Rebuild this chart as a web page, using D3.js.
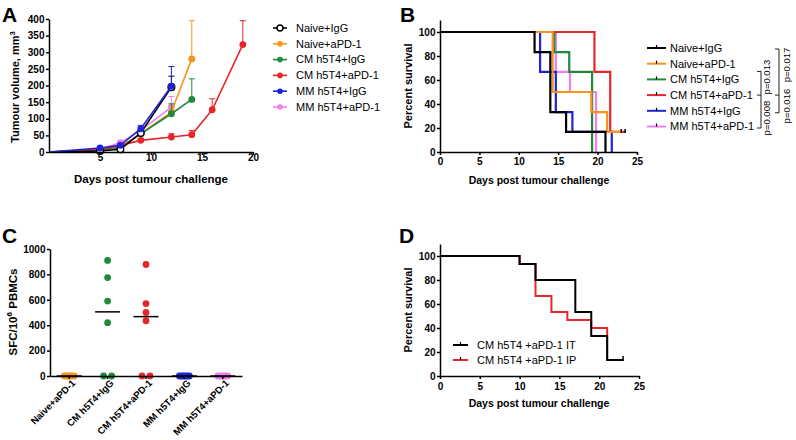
<!DOCTYPE html>
<html><head><meta charset="utf-8">
<script src="https://cdn.jsdelivr.net/npm/d3@7"></script>
<style>body{margin:0;background:#fff}svg{display:block}text{font-family:"Liberation Sans",Arial,Helvetica,sans-serif}</style>
</head><body><svg id="c" width="796" height="440" font-family="Liberation Sans, Arial, sans-serif"></svg>
<script>
// ---------- colours ----------
const cBlack = "#000000", cOrange = "#f7941d", cGreen = "#1f8a3b", cRed = "#e8262a", cBlue = "#1d24d8", cViolet = "#f07ef0";

// ---------- Panel A : tumour volume ----------
const groupNames = ["Naive+IgG","Naive+aPD-1","CM h5T4+IgG","CM h5T4+aPD-1","MM h5T4+IgG","MM h5T4+aPD-1"];
const groupColors = [cBlack, cOrange, cGreen, cRed, cBlue, cViolet];
const daysNaiveIgG = [0,5,7,9,12],           volNaiveIgG = [0,3,8,57,195],            semNaiveIgG = [0,1,2,5,33];
const daysNaiveAPD1 = [0,5,7,9,12,14],       volNaiveAPD1 = [0,5,15,55,120,280],      semNaiveAPD1 = [0,2,3,5,20,115];
const daysCmIgG = [0,5,7,9,12,14],           volCmIgG = [0,5,14,55,115,158],          semCmIgG = [0,2,3,5,30,62];
const daysCmAPD1 = [0,5,7,9,12,14,16,19],    volCmAPD1 = [0,8,20,35,45,52,127,323],   semCmAPD1 = [0,2,3,5,10,13,33,72];
const daysMmIgG = [0,5,7,9,12],              volMmIgG = [0,12,20,70,198],             semMmIgG = [0,3,4,10,59];
const daysMmAPD1 = [0,5,7,9,12],             volMmAPD1 = [0,8,28,65,135],             semMmAPD1 = [0,2,5,8,32];
const aXTicks = [5,10,15,20];
const aYTicks = [0,50,100,150,200,250,300,350,400];

// ---------- Panel B : survival ----------
const survNaiveIgG  = [[0,100],[12,83.3],[14,33.3],[16,16.7],[21,0]];
const survNaiveAPD1 = [[0,100],[14.3,50],[19.2,33.3],[21.2,16.7],[23,16.7]];
const survCmIgG     = [[0,100],[14.5,83.3],[16.4,66.7],[19.3,0]];
const survCmAPD1    = [[0,100],[19.6,66.7],[21.6,16.7],[23.5,16.7]];
const survMmIgG     = [[0,100],[12.7,66.7],[14.7,33.3],[16.8,16.7],[21.8,0]];
const survMmAPD1    = [[0,100],[14.7,66.7],[16.5,50],[19.8,0]];
const censoredB = [false,true,false,true,false,false];
const bXTicks = [0,5,10,15,20,25];
const survTicks = [0,20,40,60,80,100];
const pValues = ["p=0.013","p=0.008","p=0.017","p=0.016"];

// ---------- Panel C : ELISpot ----------
const cCategories = ["Naive+aPD-1","CM h5T4+IgG","CM h5T4+aPD-1","MM h5T4+IgG","MM h5T4+aPD-1"];
const cColors = [cOrange, cGreen, cRed, cBlue, cViolet];
const sfcNaiveAPD1 = [0,0,0,0,0,0];
const sfcCmIgG     = [910,775,590,420,0,0];
const sfcCmAPD1    = [878,570,500,435,0,0];
const sfcMmIgG     = [0,0,0,0,0,0];
const sfcMmAPD1    = [0,0,0,0,0,0];
const cYTicks = [0,200,400,600,800,1000];

// ---------- Panel D : survival IT vs IP ----------
const dNames = ["CM h5T4 +aPD-1 IT","CM h5T4 +aPD-1 IP"];
const survIT = [[0,100],[10,93.3],[12,80],[17,53.3],[19,33.3],[21,13.3],[23,13.3]];
const survIP = [[0,100],[10,93.3],[12,66.7],[14,53.3],[16,46.7],[19,40],[21,13.3],[23,13.3]];

// =========================================================
const svg = d3.select("#c");
const FONT = '"Liberation Sans", Arial, sans-serif';

function styleAxis(g, fs){
  g.attr("font-family",FONT);
  g.selectAll("path,line").attr("stroke","#000").attr("stroke-width",1.5);
  g.selectAll("text").attr("font-weight","bold").attr("font-size",fs||10).attr("fill","#000")
    .style("font-family",FONT);
}
function panelLabel(t,x,y){
  svg.append("text").attr("x",x).attr("y",y).text(t).attr("font-size",21).attr("font-weight","bold");
}
function xTitle(t,cx,y,fs){
  svg.append("text").attr("x",cx).attr("y",y).attr("text-anchor","middle").attr("font-size",fs)
    .attr("font-weight","bold").text(t);
}
function yTitle(x,cy,fs,parts){
  const t = svg.append("text").attr("transform",`translate(${x},${cy}) rotate(-90)`)
    .attr("text-anchor","middle").attr("font-size",fs).attr("font-weight","bold");
  parts.forEach(p=>{
    const ts = t.append("tspan").text(p.t);
    if(p.sup){ ts.attr("font-size",fs*0.7).attr("dy",-fs*0.4); }
    else if(p.after){ ts.attr("dy",fs*0.4); }
  });
}

// ---------------- Panel A ----------------
{
  const x = d3.scaleLinear().domain([0,20]).range([49,253]);
  const y = d3.scaleLinear().domain([0,400]).range([152,19]);
  const series = [
    {d:daysNaiveIgG,v:volNaiveIgG,e:semNaiveIgG,i:0},
    {d:daysNaiveAPD1,v:volNaiveAPD1,e:semNaiveAPD1,i:1},
    {d:daysCmIgG,v:volCmIgG,e:semCmIgG,i:2},
    {d:daysCmAPD1,v:volCmAPD1,e:semCmAPD1,i:3},
    {d:daysMmIgG,v:volMmIgG,e:semMmIgG,i:4},
    {d:daysMmAPD1,v:volMmAPD1,e:semMmAPD1,i:5}
  ].map(s=>({i:s.i,color:groupColors[s.i],pts:s.d.map((dd,k)=>({day:dd,v:s.v[k],e:s.e[k]}))}));
  const order = [5,1,2,3,0,4];
  const line = d3.line().x(p=>x(p.day)).y(p=>y(p.v));
  const gA = svg.append("g");
  order.forEach(idx=>{
    const s = series[idx];
    const g = gA.append("g");
    s.pts.filter(p=>p.e>0).forEach(p=>{
      g.append("line").attr("x1",x(p.day)).attr("x2",x(p.day)).attr("y1",y(p.v)).attr("y2",y(p.v+p.e))
        .attr("stroke",s.color).attr("stroke-width",1);
      g.append("line").attr("x1",x(p.day)-3).attr("x2",x(p.day)+3).attr("y1",y(p.v+p.e)).attr("y2",y(p.v+p.e))
        .attr("stroke",s.color).attr("stroke-width",1);
    });
    g.append("path").attr("d",line(s.pts)).attr("fill","none").attr("stroke",s.color).attr("stroke-width",1.6);
    g.selectAll("circle").data(s.pts.filter(p=>p.day>0)).join("circle")
      .attr("cx",p=>x(p.day)).attr("cy",p=>y(p.v)).attr("r", s.i===0?3.3:3.4)
      .attr("fill", s.i===0?"#fff":s.color).attr("stroke",s.color).attr("stroke-width",s.i===0?1.5:0);
  });
  const ax = svg.append("g").attr("transform","translate(0,152)")
    .call(d3.axisBottom(x).tickValues(aXTicks).tickSize(3).tickSizeOuter(0).tickPadding(-1));
  styleAxis(ax);
  const ay = svg.append("g").attr("transform","translate(49,0)")
    .call(d3.axisLeft(y).tickValues(aYTicks).tickSize(3).tickSizeOuter(0).tickPadding(1.5));
  styleAxis(ay);
  xTitle("Days post tumour challenge",151,183,11.5);
  yTitle(19,87,11,[{t:"Tumour volume, mm"},{t:"3",sup:true}]);
  panelLabel("A",2,22);
  const lg = svg.append("g");
  groupNames.forEach((n,i)=>{
    const yy = 28 + i*15.8;
    lg.append("line").attr("x1",273).attr("x2",287).attr("y1",yy).attr("y2",yy)
      .attr("stroke",groupColors[i]).attr("stroke-width",1.6);
    lg.append("circle").attr("cx",280).attr("cy",yy).attr("r",i===0?3:2.8)
      .attr("fill",i===0?"#fff":groupColors[i]).attr("stroke",groupColors[i]).attr("stroke-width",i===0?1.4:0);
    lg.append("text").attr("x",296).attr("y",yy).attr("dy","0.35em").attr("font-size",11).text(n);
  });
}

// ---------------- Panel B ----------------
{
  const x = d3.scaleLinear().domain([0,25]).range([440,637]);
  const y = d3.scaleLinear().domain([0,110]).range([152,20]);
  const surv = [survNaiveIgG,survNaiveAPD1,survCmIgG,survCmAPD1,survMmIgG,survMmAPD1];
  const line = d3.line().x(p=>x(p[0])).y(p=>y(p[1])).curve(d3.curveStepAfter);
  const order = [5,2,4,3,1,0];
  order.forEach(i=>{
    svg.append("path").attr("d",line(surv[i])).attr("fill","none").attr("stroke",groupColors[i])
      .attr("stroke-width",2.2);
  });
  surv.forEach((s,i)=>{
    if(!censoredB[i]) return;
    const last = s[s.length-1];
    svg.append("line").attr("x1",x(last[0])).attr("x2",x(last[0])).attr("y1",y(last[1])+1).attr("y2",y(last[1])-3)
      .attr("stroke","#000").attr("stroke-width",1.5);
  });
  const ax = svg.append("g").attr("transform","translate(0,152)")
    .call(d3.axisBottom(x).tickValues(bXTicks).tickSize(3).tickSizeOuter(0).tickPadding(2.5));
  styleAxis(ax);
  const ay = svg.append("g").attr("transform","translate(440,0)")
    .call(d3.axisLeft(y).tickValues(survTicks).tickSize(3).tickSizeOuter(0).tickPadding(1.5));
  styleAxis(ay);
  xTitle("Days post tumour challenge",539,184,10.5);
  yTitle(412,86,11,[{t:"Percent survival"}]);
  panelLabel("B",400,22);
  const rows = groupNames.map((n,i)=>48 + i*15.7);
  groupNames.forEach((n,i)=>{
    const yy = rows[i];
    svg.append("line").attr("x1",647).attr("x2",666).attr("y1",yy).attr("y2",yy)
      .attr("stroke",groupColors[i]).attr("stroke-width",2);
    svg.append("line").attr("x1",656.5).attr("x2",656.5).attr("y1",yy).attr("y2",yy-3)
      .attr("stroke","#000").attr("stroke-width",1.2);
    svg.append("text").attr("x",670).attr("y",yy).attr("dy","0.35em").attr("font-size",11).text(n);
  });
  const br = svg.append("g").attr("stroke","#222").attr("stroke-width",1).attr("fill","none");
  const b1Top = rows[2]-8, b1Mid = rows[3], b1Bot = rows[5]+1.5;
  br.append("path").attr("d",`M757,${b1Top}H761V${b1Bot}H757M757,${b1Mid}H761`);
  const b3Top = rows[0]+1, b3Mid = rows[3], b3Bot = rows[4]+2;
  br.append("path").attr("d",`M775,${b3Top}H779V${b3Bot}H775M775,${b3Mid}H779`);
  const pt = [
    {t:pValues[0],x:770,y:b1Mid-18},
    {t:pValues[1],x:770,y:b1Mid+23},
    {t:pValues[2],x:790,y:b3Top+16},
    {t:pValues[3],x:790,y:b3Mid+11}
  ];
  pt.forEach(p=>{
    svg.append("text").attr("transform",`translate(${p.x},${p.y}) rotate(-90)`)
      .attr("text-anchor","middle").attr("font-size",9.5).text(p.t);
  });
}

// ---------------- Panel C ----------------
{
  const x = d3.scaleBand().domain(cCategories).range([50,242]);
  const y = d3.scaleLinear().domain([0,1000]).range([376,249]);
  const groups = [sfcNaiveAPD1,sfcCmIgG,sfcCmAPD1,sfcMmIgG,sfcMmAPD1];
  groups.forEach((vals,gi)=>{
    const cx = x(cCategories[gi]) + x.bandwidth()/2;
    const counts = d3.rollup(vals, v=>v.length, v=>v);
    const seen = new Map();
    const pts = vals.map(v=>{
      const n = counts.get(v), k = seen.get(v)||0; seen.set(v,k+1);
      const step = n>1 ? Math.min(8, 10/(n-1)) : 0;
      return {v, dx:(k-(n-1)/2)*step};
    });
    svg.append("g").selectAll("circle").data(pts).join("circle")
      .attr("cx",p=>cx+p.dx).attr("cy",p=>y(p.v)).attr("r",3.4).attr("fill",cColors[gi]);
    const med = d3.median(vals);
    svg.append("line").attr("x1",cx-12.5).attr("x2",cx+12.5).attr("y1",y(med)).attr("y2",y(med))
      .attr("stroke","#000").attr("stroke-width",1.5);
  });
  const ax = svg.append("g").attr("transform","translate(0,376)")
    .call(d3.axisBottom(x).tickSize(3).tickSizeOuter(0).tickPadding(2));
  styleAxis(ax,9.6);
  ax.selectAll("text").attr("text-anchor","end").attr("dy",null).attr("y",null)
    .attr("transform","translate(5,6) rotate(-45)").attr("dominant-baseline","middle");
  const ay = svg.append("g").attr("transform","translate(50,0)")
    .call(d3.axisLeft(y).tickValues(cYTicks).tickFormat(d3.format("d")).tickSize(3).tickSizeOuter(0).tickPadding(1.5));
  styleAxis(ay);
  yTitle(17,312,11.5,[{t:"SFC/10"},{t:"6",sup:true},{t:" PBMCs",after:true}]);
  panelLabel("C",2,243);
}

// ---------------- Panel D ----------------
{
  const x = d3.scaleLinear().domain([0,25]).range([440,639]);
  const y = d3.scaleLinear().domain([0,110]).range([376,244]);
  const line = d3.line().x(p=>x(p[0])).y(p=>y(p[1])).curve(d3.curveStepAfter);
  const dSeries = [survIT, survIP];
  const dColors = [cBlack, cRed];
  [1,0].forEach(i=>{
    svg.append("path").attr("d",line(dSeries[i])).attr("fill","none").attr("stroke",dColors[i]).attr("stroke-width",2);
  });
  const last = survIT[survIT.length-1];
  svg.append("line").attr("x1",x(last[0])).attr("x2",x(last[0])).attr("y1",y(last[1])+1).attr("y2",y(last[1])-4)
    .attr("stroke","#000").attr("stroke-width",1.5);
  const ax = svg.append("g").attr("transform","translate(0,376)")
    .call(d3.axisBottom(x).tickValues(bXTicks).tickSize(3).tickSizeOuter(0).tickPadding(4));
  styleAxis(ax);
  const ay = svg.append("g").attr("transform","translate(440,0)")
    .call(d3.axisLeft(y).tickValues(survTicks).tickSize(3).tickSizeOuter(0).tickPadding(1.5));
  styleAxis(ay);
  xTitle("Days post tumour challenge",539,407,10.5);
  yTitle(412,310,11,[{t:"Percent survival"}]);
  panelLabel("D",399,243);
  dNames.forEach((n,i)=>{
    const yy = 345 + i*15;
    svg.append("line").attr("x1",453).attr("x2",468).attr("y1",yy).attr("y2",yy)
      .attr("stroke",dColors[i]).attr("stroke-width",2);
    svg.append("line").attr("x1",460.5).attr("x2",460.5).attr("y1",yy).attr("y2",yy-3)
      .attr("stroke","#000").attr("stroke-width",1.2);
    svg.append("text").attr("x",477).attr("y",yy).attr("dy","0.35em").attr("font-size",11).text(n);
  });
}
</script></body></html>
